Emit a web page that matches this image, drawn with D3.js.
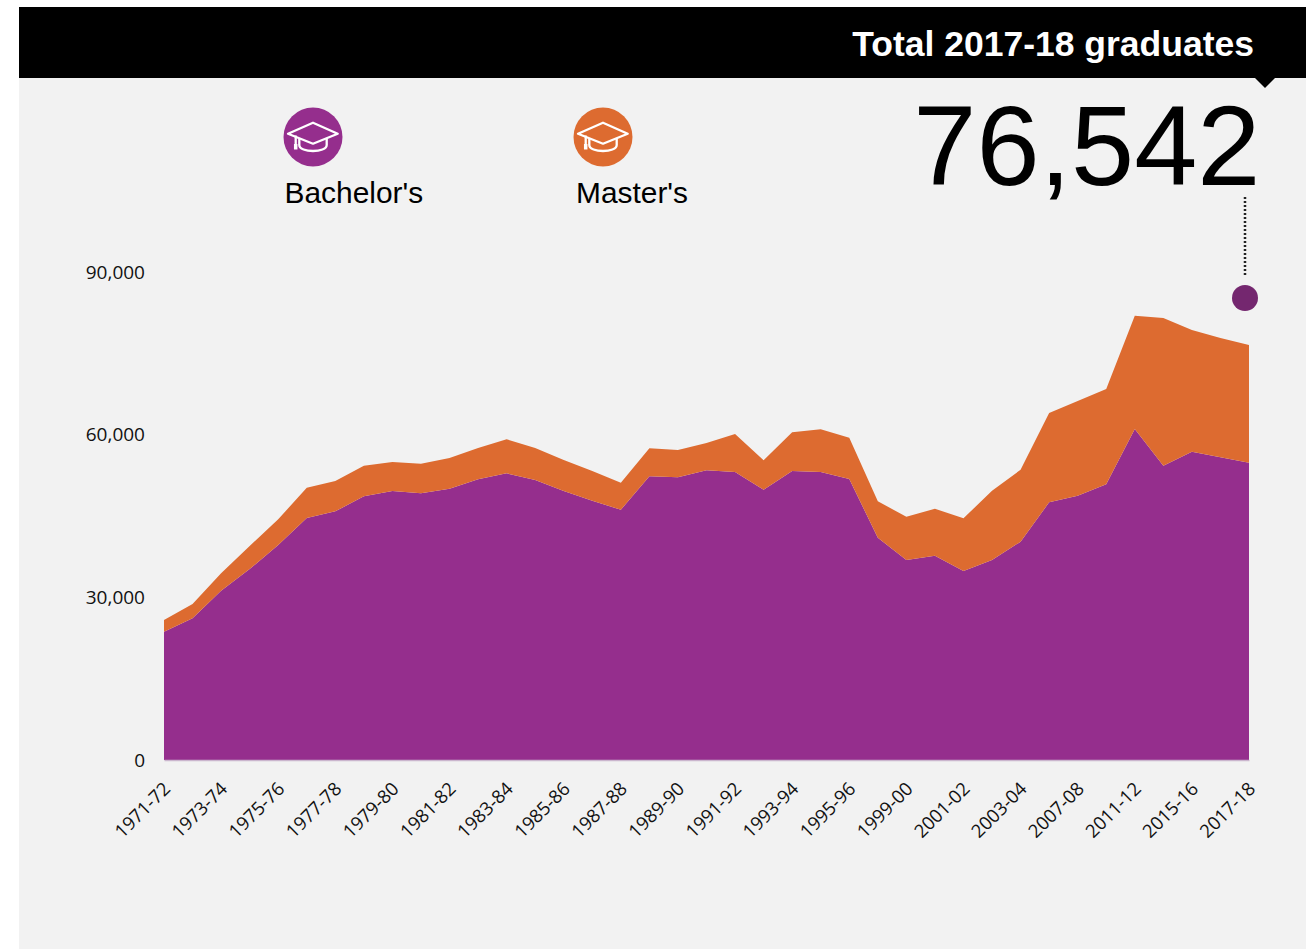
<!DOCTYPE html>
<html>
<head>
<meta charset="utf-8">
<script src="https://cdn.jsdelivr.net/npm/d3@7"></script>
<style>
    body { margin: 0; background: #fff; }
    svg { display: block; }
    .tick text { font-family: "Open Sans", sans-serif; font-size: 19px; fill: #111; }
    .x-axis .tick text { font-size: 18.5px; }
    .big { font-family: "Liberation Sans", Arial, sans-serif; }
</style>
</head>
<body>
<svg id="chart"></svg>
<script>
const years = ["1971-72","1972-73","1973-74","1974-75","1975-76","1976-77","1977-78","1978-79","1979-80","1980-81",
    "1981-82","1982-83","1983-84","1984-85","1985-86","1986-87","1987-88","1988-89","1989-90","1990-91",
    "1991-92","1992-93","1993-94","1994-95","1995-96","1997-98","1999-00","2000-01","2001-02","2002-03",
    "2003-04","2005-06","2007-08","2009-10","2011-12","2013-14","2015-16","2016-17","2017-18"];

const bachelors = [23660,26130,31220,35220,39650,44620,45860,48630,49600,49180,
    50030,51760,52870,51630,49600,47820,46160,52310,52130,53420,
    53110,49840,53290,53110,51820,40990,36880,37670,34850,36880,
    40260,47520,48740,50840,61040,54270,56850,55820,54820];

const masters = [2160,2640,3210,4240,4740,5590,5590,5640,5350,5460,
    5660,5770,6270,5900,5720,5470,4970,5170,5030,5030,
    7000,5420,7140,7870,7610,6710,7990,8670,9720,12780,
    13270,16470,17460,17570,20890,27230,22440,22000,21722];

const y_ticks = [0, 30000, 60000, 90000];
const degrees = ["Bachelor's", "Master's"];
const total_label = "Total 2017-18 graduates";
const total_value = 76542;

const purple = "#952e8d", orange = "#dd6b30", dark_purple = "#74276f", panel = "#f2f2f2";

const margin = {left: 164, right: 1249, top: 272, bottom: 760};

const svg = d3.select("#chart").attr("width", 1311).attr("height", 949);

// panel and black header
svg.append("rect").attr("x", 19).attr("y", 7).attr("width", 1287).attr("height", 942).attr("fill", panel);
svg.append("rect").attr("x", 19).attr("y", 7).attr("width", 1287).attr("height", 71).attr("fill", "#000");
svg.append("path").attr("d", "M1255,78L1275,78L1265,88Z").attr("fill", "#000");

svg.append("text")
    .attr("class", "big")
    .attr("x", 1254).attr("y", 56)
    .attr("text-anchor", "end")
    .attr("font-size", 35.5)
    .attr("font-weight", "bold")
    .attr("fill", "#fff")
    .text(total_label);

svg.append("text")
    .attr("class", "big")
    .attr("x", 1260.5).attr("y", 185)
    .attr("text-anchor", "end")
    .attr("font-size", 113.5)
    .attr("fill", "#000")
    .text(d3.format(",")(total_value));

var x = d3.scalePoint().domain(years).range([margin.left, margin.right]);
var y = d3.scaleLinear().domain([0, 90000]).range([margin.bottom, margin.top]);

var rows = years.map(function(d, i) {
    return {year: d, bachelors: bachelors[i], masters: masters[i]};
});

var series = d3.stack().keys(["bachelors", "masters"])(rows);

var area = d3.area()
    .x(function(d) { return x(d.data.year); })
    .y0(function(d) { return y(d[0]); })
    .y1(function(d) { return y(d[1]); });

svg.selectAll("path.layer")
    .data(series)
    .enter()
    .append("path")
    .attr("class", "layer")
    .attr("fill", function(d, i) { return i === 0 ? purple : orange; })
    .attr("d", area);

// axes
svg.append("g")
    .attr("class", "y-axis")
    .attr("transform", "translate(145,0)")
    .call(d3.axisLeft(y).tickValues(y_ticks).tickSize(0).tickPadding(0).tickFormat(d3.format(",")))
    .call(function(g) { g.select(".domain").remove(); });

var x_axis = svg.append("g")
    .attr("class", "x-axis")
    .attr("transform", "translate(0," + margin.bottom + ")")
    .call(d3.axisBottom(x)
        .tickValues(years.filter(function(d, i) { return i % 2 === 0; }))
        .tickSize(0)
        .tickSizeOuter(0));

x_axis.select(".domain").attr("stroke", "#cbb6ce").attr("stroke-width", 1.5);

x_axis.selectAll("text")
    .attr("text-anchor", "end")
    .attr("dx", 0)
    .attr("dy", 0)
    .attr("y", 0)
    .attr("transform", "translate(7,30) rotate(-45)");

// legend with the graduation cap icons
var legend = svg.selectAll("g.legend")
    .data(degrees)
    .enter()
    .append("g")
    .attr("class", "legend")
    .attr("transform", function(d, i) { return "translate(" + (i === 0 ? 313 : 603) + ",137)"; });

legend.append("circle")
    .attr("r", 29.5)
    .attr("fill", function(d, i) { return i === 0 ? purple : orange; });

var cap = legend.append("g")
    .attr("fill", "none")
    .attr("stroke", "#fff")
    .attr("stroke-width", 2.3)
    .attr("stroke-linejoin", "round");

cap.append("path").attr("d", "M-25,-3.3L0,-14.3L24.7,-3.3L0,6.7Z");
cap.append("path").attr("d", "M-13.7,1.7L-13.7,8C-13.7,16 13.7,16 13.7,8L13.7,1.7");
cap.append("path").attr("d", "M-17.3,-1.5L-17.3,12");
cap.append("path").attr("d", "M-17.3,7L-17.3,12.5").attr("stroke-width", 3.5);

legend.append("text")
    .attr("class", "big")
    .attr("x", function(d, i) { return i === 0 ? -28.5 : -27; })
    .attr("y", 66)
    .attr("font-size", 29.9)
    .attr("fill", "#000")
    .text(function(d) { return d; });

// pointer from the number to the dot
svg.append("line")
    .attr("x1", 1245).attr("x2", 1245)
    .attr("y1", 197).attr("y2", 275)
    .attr("stroke", "#222")
    .attr("stroke-width", 2.5)
    .attr("stroke-dasharray", "2,2");

svg.append("circle")
    .attr("cx", 1245).attr("cy", 298)
    .attr("r", 13)
    .attr("fill", dark_purple);
</script>
</body>
</html>
